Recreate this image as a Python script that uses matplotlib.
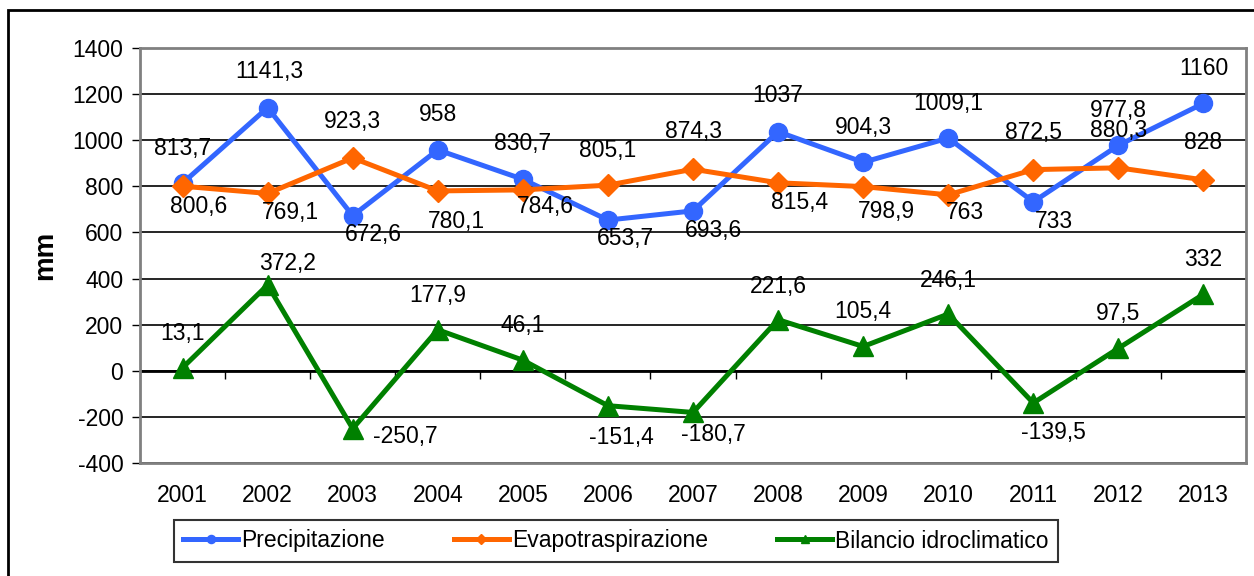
import matplotlib
matplotlib.use('Agg')
import matplotlib.pyplot as plt
from matplotlib.patches import Rectangle
import numpy as np

plt.rcParams['font.family'] = ['Liberation Sans', 'DejaVu Sans']
plt.rcParams['axes.unicode_minus'] = False

# data
anni = ['2001', '2002', '2003', '2004', '2005', '2006', '2007',
        '2008', '2009', '2010', '2011', '2012', '2013']
precipitazione = [813.7, 1141.3, 672.6, 958, 830.7, 653.7, 693.6,
                  1037, 904.3, 1009.1, 733, 977.8, 1160]
evapotraspirazione = [800.6, 769.1, 923.3, 780.1, 784.6, 805.1, 874.3,
                      815.4, 798.9, 763, 872.5, 880.3, 828]
bilancio = [13.1, 372.2, -250.7, 177.9, 46.1, -151.4, -180.7,
            221.6, 105.4, 246.1, -139.5, 97.5, 332]

# label offsets in pixels (dx, dy downwards)
prec_off = [(0, -35), (2, -36), (21, 19), (0, -35), (0, -36), (18, 18), (20, 20),
            (0, -36), (0, -35), (0, -35), (21, 20), (0, -35), (0, -35)]
evap_off = [(16, 20), (23, 19), (0, -36), (19, 31), (23, 17), (0, -35), (0, -38),
            (21, 20), (23, 25), (17, 18), (0, -37), (0, -37), (0, -37)]
bil_off = [(0, -34), (20, -21), (53, 8), (0, -34), (0, -35), (13, 32), (20, 22),
           (0, -33), (0, -35), (0, -34), (20, 30), (0, -35), (0, -35)]

FS = 16.5
W, H = 1254, 576
fig = plt.figure(figsize=(W / 100, H / 100), dpi=100)
ax = fig.add_axes([140 / W, 1 - 463 / H, (1246 - 140) / W, (463 - 48) / H])

x = np.arange(len(anni))
series = [
    (precipitazione, 'Precipitazione', '#3366ff', 'o', 13, prec_off),
    (evapotraspirazione, 'Evapotraspirazione', '#ff6600', 'D', 11, evap_off),
    (bilancio, 'Bilancio idroclimatico', '#008000', '^', 14, bil_off),
]
for vals, name, col, mk, ms, offs in series:
    ax.plot(x, vals, color=col, lw=3.6, marker=mk, ms=ms, mec=col, mfc=col,
            label=name, zorder=3)
    for xi, v, (dx, dy) in zip(x, vals, offs):
        ax.annotate(f"{v:g}".replace('.', ','), (xi, v), xytext=(dx, -dy),
                    textcoords='offset pixels', ha='center', va='center',
                    fontsize=FS, color='black', zorder=4)

ax.set_xlim(-0.5, len(anni) - 0.5)
ax.set_ylim(-400, 1400)
ax.set_yticks(np.arange(-400, 1401, 200))
ax.yaxis.grid(True, color='black', lw=1.2)
ax.set_axisbelow(True)
ax.tick_params(axis='y', direction='out', length=6, width=1, colors='black',
               labelsize=FS, pad=6)
ax.set_xticks(x)
ax.set_xticklabels(anni)
ax.tick_params(axis='x', length=0, labelsize=FS, pad=15)
for s in ax.spines.values():
    s.set_color('#808080')
    s.set_linewidth(2)

# category axis at zero
ax.axhline(0, color='black', lw=2, zorder=2)
sec = ax.secondary_xaxis(400 / 1800)
sec.set_xticks(np.arange(0.5, len(anni) - 0.5, 1.0))
sec.set_xticklabels([])
sec.tick_params(direction='out', length=6, width=1, colors='black')
sec.spines['bottom'].set_visible(False)

ax.set_ylabel('mm', fontsize=20, fontweight='bold', labelpad=10)

leg = fig.legend(loc='center', bbox_to_anchor=(616 / W, 1 - 541 / H), ncol=3,
                 fontsize=FS, frameon=True, fancybox=False, edgecolor='black',
                 handlelength=2.4, columnspacing=3.0, handletextpad=0.15,
                 borderpad=0.4, borderaxespad=0, markerscale=0.45)
leg.get_frame().set_linewidth(1.5)

# outer chart frame
fig.patches.append(Rectangle((8 / W, -0.1), 1.2, 1.1 - 10 / H, transform=fig.transFigure,
                             fill=False, edgecolor='black', lw=2))

fig.savefig('out.png', dpi=100)
